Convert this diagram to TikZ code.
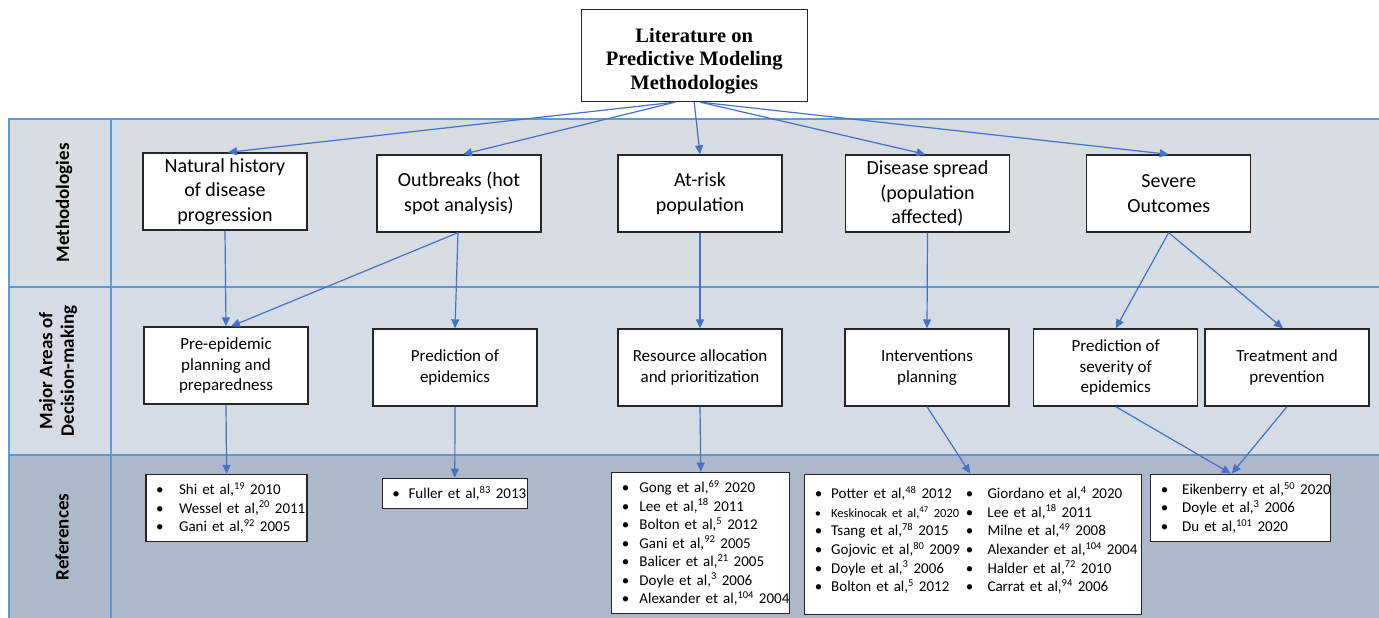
\documentclass[tikz,border=0pt]{standalone}
\usepackage{fontspec}
\setmainfont{Carlito}
\newfontfamily\timesbf{Liberation Serif}
\usetikzlibrary{arrows.meta}

\definecolor{bandtop}{RGB}{215,221,226}
\definecolor{bandmid}{RGB}{214,220,229}
\definecolor{bandref}{RGB}{173,185,202}
\definecolor{bandline}{RGB}{91,155,213}
\definecolor{flowblue}{RGB}{68,114,196}

\newcommand{\bul}[1]{\makebox[#1][l]{\textbullet}}

\tikzset{
  box/.style={draw=black!85, line width=1.3pt, fill=white, align=center, inner sep=0pt},
  methbox/.style={box, minimum width=164pt, minimum height=77pt, font=\fontsize{20}{24.5}\selectfont},
  areabox/.style={box, minimum width=164pt, minimum height=77pt, font=\fontsize{17}{20.7}\selectfont},
  refbox/.style={box, align=left, inner xsep=10pt, font=\fontsize{15}{18.5}\selectfont},
  flow/.style={flowblue, line width=1.2pt, -{Triangle[length=9pt,width=8pt]}},
  bandlabel/.style={rotate=90, align=center, font=\bfseries\fontsize{19}{21.5}\selectfont}
}

\begin{document}
\begin{tikzpicture}[x=1pt, y=-1pt]
\useasboundingbox (0,0) rectangle (1379,618);
% bands
\fill[bandtop] (9,119) rectangle (1379,287);
\fill[bandmid] (9,287) rectangle (1379,455);
\fill[bandref] (9,455) rectangle (1379,618);
\draw[bandline, line width=1.5pt] (1379,119) -- (9,119) -- (9,618);
\draw[bandline, line width=1.5pt] (9,287) -- (1379,287);
\draw[bandline, line width=1.5pt] (9,455) -- (1379,455);
\draw[bandline, line width=1.5pt] (111,119) -- (111,618);
\node[bandlabel] (lmeth) at (64,203) {Methodologies};
\node[bandlabel] (larea) at (58,371) {Major Areas of\\Decision-making};
\node[bandlabel] (lref) at (62,537) {References};

% top
\node[box, minimum width=226pt, minimum height=92pt,
  font=\timesbf\bfseries\fontsize{20.5}{23.5}\selectfont] (top) at (694.2,55.5)
  {\rule{0pt}{25pt}Literature on\\Predictive Modeling\\Methodologies};

% methodologies
\node[methbox] (natural) at (225,191.5) {Natural history\\of disease\\progression};
\node[methbox] (outbreak) at (459,193.5) {Outbreaks (hot\\spot analysis)};
\node[methbox] (atrisk) at (700,193.5) {At-risk\\population};
\node[methbox] (spread) at (927.5,193.5) {Disease spread\\(population\\affected)};
\node[methbox] (severe) at (1168.7,193.5) {Severe\\Outcomes};

% decision-making
\node[areabox] (preepi) at (226,365.5) {Pre-epidemic\\planning and\\preparedness};
\node[areabox] (predict) at (455,367.5) {Prediction of\\epidemics};
\node[areabox] (resource) at (700,367.5) {Resource allocation\\and prioritization};
\node[areabox] (interv) at (927,367.5) {Interventions\\planning};
\node[areabox] (sevpred) at (1115.7,367.5) {Prediction of\\severity of\\epidemics};
\node[areabox] (treat) at (1287,367.5) {Treatment and\\prevention};

% references
\node[refbox, text width=141pt, minimum height=67pt] (shi) at (226.6,508) {%
  \mbox{\bul{23pt}Shi et al,\textsuperscript{19} 2010}\\
  \mbox{\bul{23pt}Wessel et al,\textsuperscript{20} 2011}\\
  \mbox{\bul{23pt}Gani et al,\textsuperscript{92} 2005}};
\node[refbox, text width=125pt, minimum height=30pt] (fuller) at (454.8,493.3) {%
  \mbox{\bul{16.3pt}Fuller et al,\textsuperscript{83} 2013}};
\node[refbox, text width=158pt, minimum height=141pt] (gong) at (700.8,542.8) {%
  \mbox{\bul{17.7pt}Gong et al,\textsuperscript{69} 2020}\\
  \mbox{\bul{17.7pt}Lee et al,\textsuperscript{18} 2011}\\
  \mbox{\bul{17.7pt}Bolton et al,\textsuperscript{5} 2012}\\
  \mbox{\bul{17.7pt}Gani et al,\textsuperscript{92} 2005}\\
  \mbox{\bul{17.7pt}Balicer et al,\textsuperscript{21} 2005}\\
  \mbox{\bul{17.7pt}Doyle et al,\textsuperscript{3} 2006}\\
  \mbox{\bul{17.7pt}Alexander et al,\textsuperscript{104} 2004}};
\node[refbox, text width=317pt, minimum height=140pt,
  font=\fontsize{15}{18.7}\selectfont] (potter) at (973.3,544.2) {%
  \mbox{\makebox[151pt][l]{\bul{16.4pt}Potter et al,\textsuperscript{48} 2012}\bul{21.7pt}Giordano et al,\textsuperscript{4} 2020}\\
  \mbox{\makebox[151pt][l]{\fontsize{12.5}{14}\selectfont\bul{16.4pt}Keskinocak et al,\textsuperscript{47} 2020}\bul{21.7pt}Lee et al,\textsuperscript{18} 2011}\\
  \mbox{\makebox[151pt][l]{\bul{16.4pt}Tsang et al,\textsuperscript{78} 2015}\bul{21.7pt}Milne et al,\textsuperscript{49} 2008}\\
  \mbox{\makebox[151pt][l]{\bul{16.4pt}Gojovic et al,\textsuperscript{80} 2009}\bul{21.7pt}Alexander et al,\textsuperscript{104} 2004}\\
  \mbox{\makebox[151pt][l]{\bul{16.4pt}Doyle et al,\textsuperscript{3} 2006}\bul{21.7pt}Halder et al,\textsuperscript{72} 2010}\\
  \mbox{\makebox[151pt][l]{\bul{16.4pt}Bolton et al,\textsuperscript{5} 2012}\bul{21.7pt}Carrat et al,\textsuperscript{94} 2006}\\[-8pt]
  \mbox{}};
\node[refbox, text width=160pt, minimum height=67pt] (eiken) at (1240.8,507.7) {%
  \mbox{\bul{21.4pt}Eikenberry et al,\textsuperscript{50} 2020}\\
  \mbox{\bul{21.4pt}Doyle et al,\textsuperscript{3} 2006}\\
  \mbox{\bul{21.4pt}Du et al,\textsuperscript{101} 2020}};

% arrows from the top box
\draw[flow] ([xshift=-19pt]top.south) -- ([xshift=3pt]natural.north);
\draw[flow] ([xshift=-19pt]top.south) -- ([xshift=4pt]outbreak.north);
\draw[flow] (top.south) -- (atrisk.north);
\draw[flow] ([xshift=6pt]top.south) -- ([xshift=-2pt]spread.north);
\draw[flow] ([xshift=6pt]top.south) -- (severe.north);
% methodologies to decision-making
\draw[flow] (natural.south) -- (preepi.north);
\draw[flow] ([xshift=-1pt]outbreak.south) -- ([xshift=5pt]preepi.north);
\draw[flow] ([xshift=-1pt]outbreak.south) -- (predict.north);
\draw[flow] (atrisk.south) -- (resource.north);
\draw[flow] (spread.south) -- (interv.north);
\draw[flow] (severe.south) -- (sevpred.north);
\draw[flow] (severe.south) -- ([xshift=-4pt]treat.north);
% decision-making to references
\draw[flow] (preepi.south) -- (shi.north);
\draw[flow] (predict.south) -- (fuller.north);
\draw[flow] (resource.south) -- (gong.north);
\draw[flow] (interv.south) -- ([xshift=-3pt]potter.north);
\draw[flow] (sevpred.south) -- ([xshift=-10pt]eiken.north);
\draw[flow] (treat.south) -- ([xshift=-9pt]eiken.north);
\end{tikzpicture}
\end{document}
